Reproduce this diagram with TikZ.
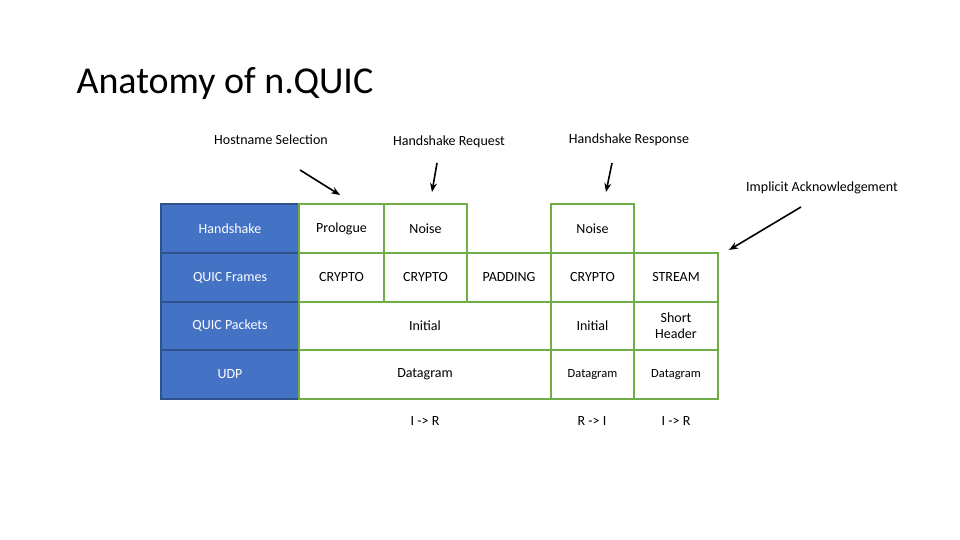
\documentclass[tikz,border=0pt]{standalone}
\usepackage{fontspec}
\setmainfont{Carlito}
\usetikzlibrary{arrows.meta}
\definecolor{hdblue}{RGB}{68,114,196}
\definecolor{hdedge}{RGB}{47,82,143}
\definecolor{cellgreen}{RGB}{112,173,71}
\tikzset{
  hd/.style={draw=hdedge, fill=hdblue, text=white, line width=1.2pt, inner sep=0pt, font=\fontsize{14}{16}\selectfont},
  cell/.style={draw=cellgreen, line width=2pt, inner sep=0pt, align=center, font=\fontsize{14}{16}\selectfont},
  small/.style={font=\fontsize{12.5}{14}\selectfont},
  lbl/.style={font=\fontsize{14}{16}\selectfont},
  pt/.style={-{Stealth[length=9pt,width=7pt]}, line width=1.6pt}
}
% cell from (x1,y1) to (x2,y2) in pixels
\newcommand{\gcell}[7]{\node[#1, minimum width=#5-#3, minimum height=#6-#4] (#2) at ({(#3+#5)/2},{(#4+#6)/2}) {#7};}
\begin{document}
\begin{tikzpicture}[x=1pt, y=-1pt]
\useasboundingbox (0,0) rectangle (960,540);

\node[anchor=base west, font=\fontsize{38}{40}\selectfont] (title) at (73,94) {Anatomy of n.QUIC};

% left column
\gcell{hd}{h1}{161}{204}{299}{253}{Handshake}
\gcell{hd}{h2}{161}{253}{299}{302}{QUIC Frames}
\gcell{hd}{h3}{161}{302}{299}{350}{QUIC Packets}
\gcell{hd}{h4}{161}{350}{299}{399}{UDP}

% handshake row
\gcell{cell}{prologue}{299}{204}{384}{253}{Prologue}
\gcell{cell}{noiseA}{384}{204}{467}{253}{Noise}
\gcell{cell}{noiseB}{551}{204}{634}{253}{Noise}
% frames row
\gcell{cell}{cryptoA}{299}{253}{384}{302}{CRYPTO}
\gcell{cell}{cryptoB}{384}{253}{467}{302}{CRYPTO}
\gcell{cell}{padding}{467}{253}{551}{302}{PADDING}
\gcell{cell}{cryptoC}{551}{253}{634}{302}{CRYPTO}
\gcell{cell}{stream}{634}{253}{718}{302}{STREAM}
% packets row
\gcell{cell}{initA}{299}{302}{551}{350}{Initial}
\gcell{cell}{initB}{551}{302}{634}{350}{Initial}
\gcell{cell}{short}{634}{302}{718}{350}{Short\\Header}
% udp row
\gcell{cell}{dgramA}{299}{350}{551}{399}{Datagram}
\gcell{cell,small}{dgramB}{551}{350}{634}{399}{Datagram}
\gcell{cell,small}{dgramC}{634}{350}{718}{399}{Datagram}

% directions
\node[lbl] (dirA) at (425,421) {I -> R};
\node[lbl] (dirB) at (592,421) {R -> I};
\node[lbl] (dirC) at (676,421) {I -> R};

% annotations
\node[lbl] (host) at (271,140) {Hostname Selection};
\node[lbl] (req) at (449,142) {Handshake Request};
\node[lbl] (resp) at (629,140) {Handshake Response};
\node[lbl] (ack) at (822,188) {Implicit Acknowledgement};
\coordinate (hostS) at (300,170);
\coordinate (hostT) at (340,195);
\coordinate (reqS) at (437,163);
\coordinate (reqT) at (432,192);
\coordinate (respS) at (612,163);
\coordinate (respT) at (606,192);
\coordinate (ackS) at (801,207);
\coordinate (ackT) at (729,250);
\draw[pt] (hostS) -- (hostT);
\draw[pt] (reqS) -- (reqT);
\draw[pt] (respS) -- (respT);
\draw[pt] (ackS) -- (ackT);
\end{tikzpicture}
\end{document}
